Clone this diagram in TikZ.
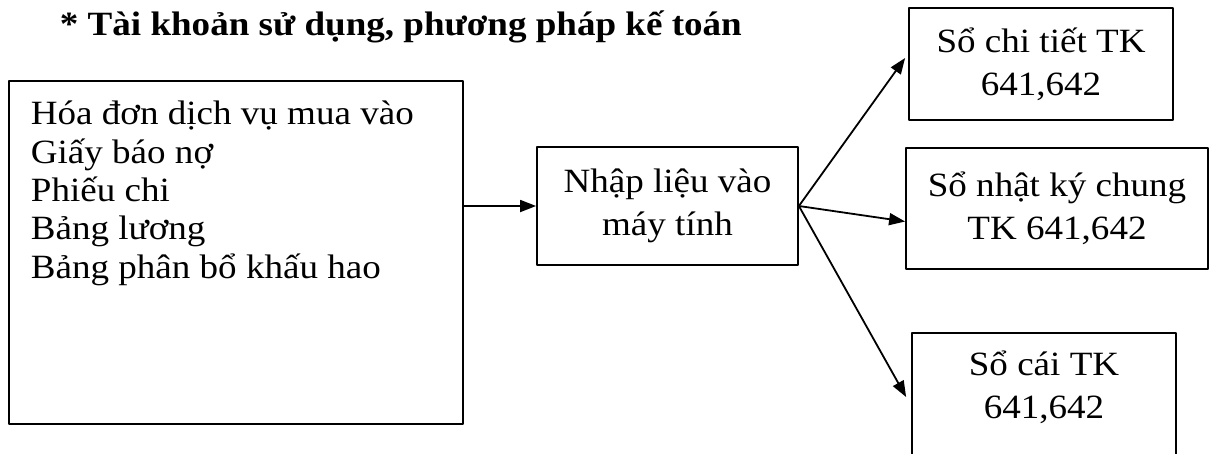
\documentclass[tikz,border=0pt]{standalone}
\usepackage{fontspec}
\setmainfont{Liberation Serif}[FakeStretch=1.09]
\usetikzlibrary{arrows.meta}
\begin{document}
\begin{tikzpicture}[x=1pt, y=-1pt, line width=1.8pt, line join=round, >={Triangle[length=16pt,width=12pt]},
  box/.style={draw, inner sep=0pt, align=center, font=\fontsize{34}{43}\selectfont}]
\useasboundingbox (0,0) rectangle (1213,453);
\clip (0,0) rectangle (1213,453);
% heading
\node[anchor=base west, inner sep=0pt, font=\fontsize{34}{40}\bfseries\selectfont] (title) at (59,35) {* Tài khoản sử dụng, phương pháp kế toán};
% source documents
\node[draw, anchor=north west, minimum width=454, minimum height=343] (src) at (8,80) {};
\node[anchor=base west, inner sep=0pt, align=left, font=\fontsize{34}{38.3}\selectfont] (srclist) at (30,278)
  {Hóa đơn dịch vụ mua vào\\Giấy báo nợ\\Phiếu chi\\Bảng lương\\Bảng phân bổ khấu hao};
% data entry
\node[box, minimum width=261, minimum height=118] (entry) at (667.5,206) {Nhập liệu vào\\máy tính};
% ledgers
\node[box, minimum width=264, minimum height=112] (detail) at (1041,64) {Sổ chi tiết TK\\641,642};
\node[box, minimum width=302, minimum height=121] (journal) at (1057,208.5) {Sổ nhật ký chung\\TK 641,642};
\node[box, minimum width=264, minimum height=140, text depth=37pt] (ledger) at (1044,403) {Sổ cái TK\\641,642};
% arrows
\draw[->] (entry.west -| src.east) -- (entry.west);
\draw[->] (entry.east) -- ([yshift=6pt,xshift=-3pt]detail.west);
\draw[->] (entry.east) -- ([yshift=-13pt]journal.west);
\draw[->] (entry.east) -- ([yshift=6pt,xshift=-5pt]ledger.west);
\end{tikzpicture}
\end{document}
